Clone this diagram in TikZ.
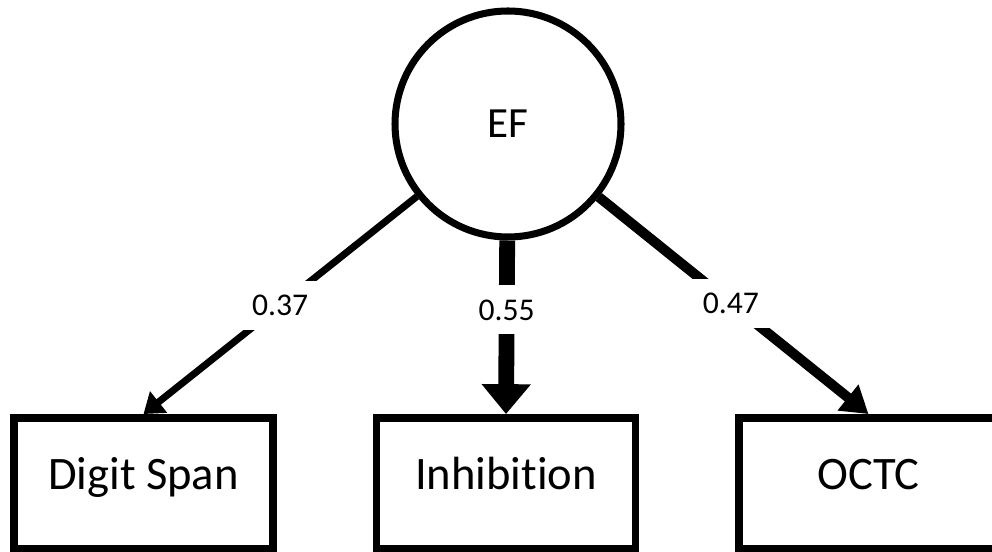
\documentclass[tikz,border=0pt]{standalone}
\usepackage{fontspec}
\setmainfont{Carlito}[Ligatures={NoCommon}]
\usetikzlibrary{arrows.meta}

\begin{document}
\begin{tikzpicture}[
	latent/.style={circle, draw, line width=4pt, minimum size=4.52cm, inner sep=0pt, font=\fontsize{24.5}{29}\selectfont},
	obs/.style={rectangle, draw, line width=4.5pt, minimum width=5.18cm, minimum height=2.62cm, text height=0.64em, text depth=0pt, font=\fontsize{26.5}{31}\selectfont},
	coef/.style={fill=white, inner sep=8pt, font=\fontsize{18}{21}\selectfont}]
	\useasboundingbox (0, 0) rectangle (19.84, 11.04);
	\clip (0, 0) rectangle (19.84, 11.04);
	\node [latent] (EF) at (10.16, 8.56) {EF};
	\node [obs] (DS) at (2.87, 1.37) {Digit Span};
	\node [obs] (IN) at (10.12, 1.37) {Inhibition};
	\node [obs] (OC) at (17.37, 1.37) {OCTC};
	\draw [-{Triangle[length=11pt, width=15pt]}, line width=4pt] (EF) -- node [coef, pos=0.5] {0.37} (DS.north);
	\draw [-{Triangle[length=17pt, width=27pt]}, line width=9pt] (EF) -- node [coef, pos=0.4] {0.55} (IN.north);
	\draw [-{Triangle[length=15pt, width=18pt]}, line width=5.7pt] (EF) -- node [coef, pos=0.49] {0.47} (OC.north);
\end{tikzpicture}
\end{document}
